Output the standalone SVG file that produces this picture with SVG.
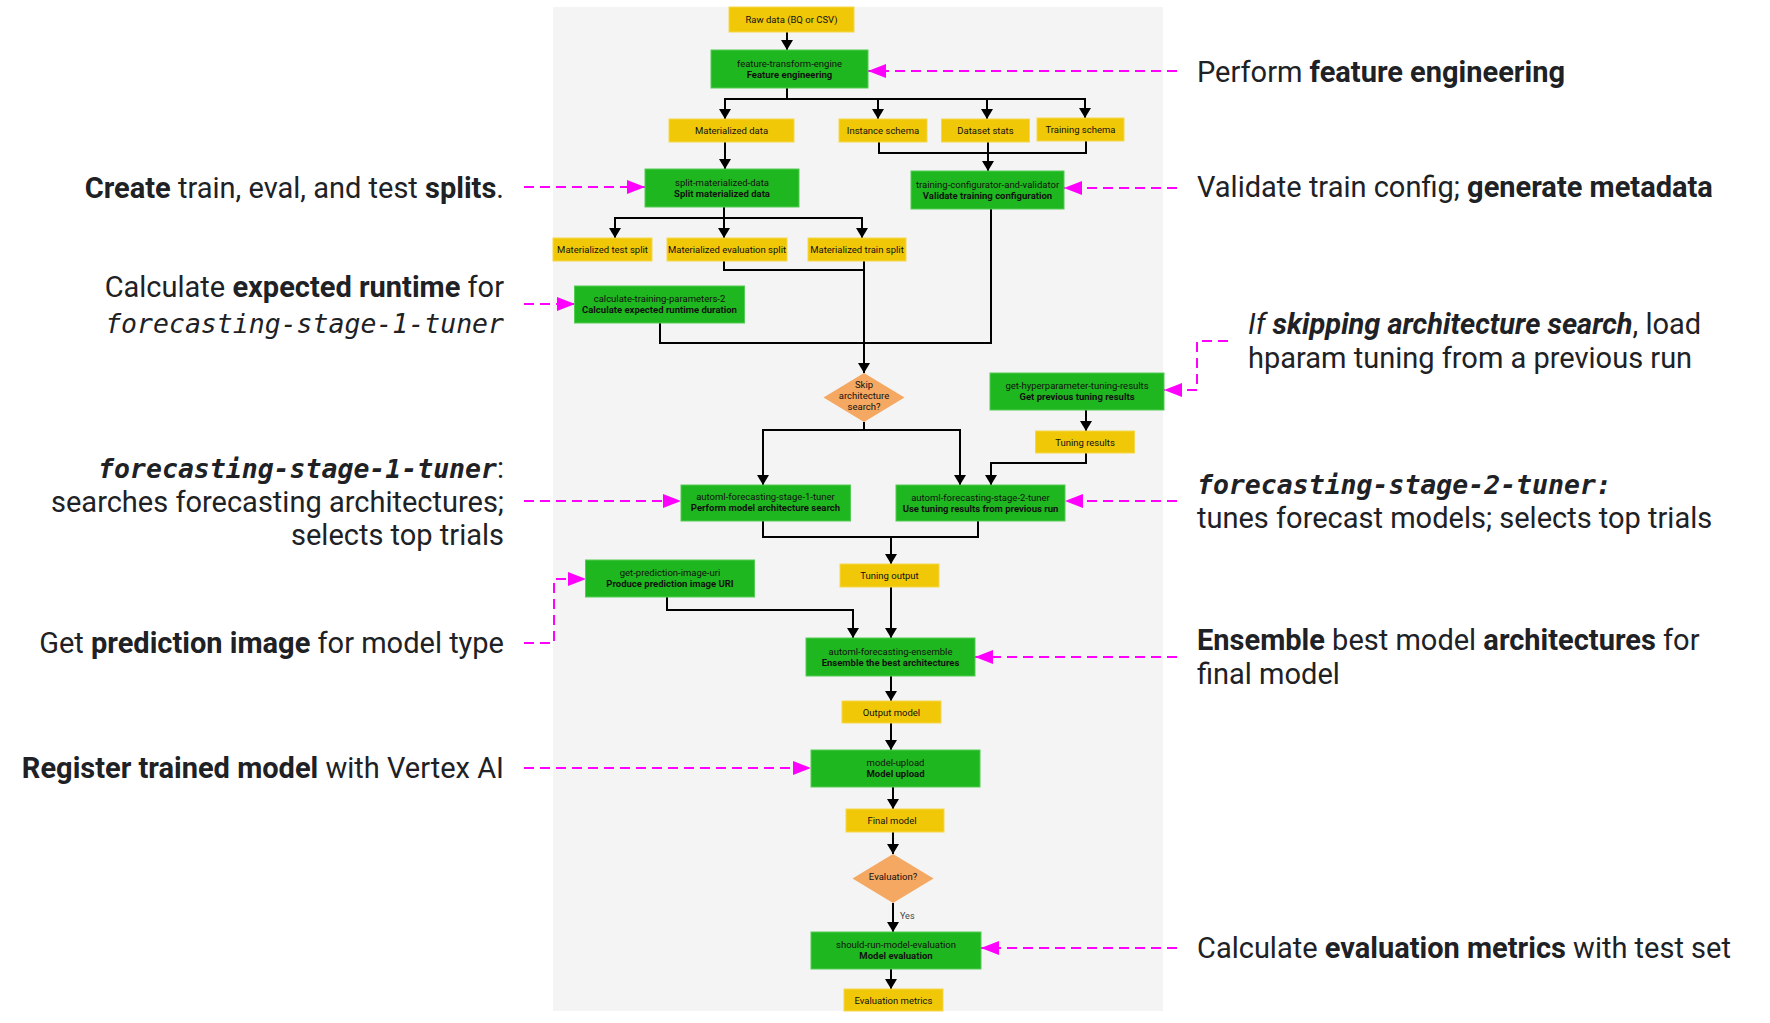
<svg xmlns="http://www.w3.org/2000/svg" width="1770" height="1023" viewBox="0 0 1770 1023">
<style>
.g{fill:#1fb71f;stroke:#55cc55;stroke-width:1}
.y{fill:#f0c808;stroke:#f5d84a;stroke-width:1}
.d{fill:#f5a862}
.t{font-family:Roboto,"Liberation Sans",sans-serif;font-size:9.5px;fill:#111;text-anchor:middle}
.b{font-weight:bold}
.c{fill:none;stroke:#000;stroke-width:2;marker-end:url(#ah)}
.cn{fill:none;stroke:#000;stroke-width:2}
.m{fill:none;stroke:#ff00ff;stroke-width:2;stroke-dasharray:10 6;marker-end:url(#mh)}
.a{font-family:Roboto,"Liberation Sans",sans-serif;font-size:29px;fill:#202124}
.mono{font-family:"DejaVu Sans Mono","Liberation Mono",monospace;font-size:26.5px;font-style:italic}
</style>
<defs>
<marker id="ah" markerUnits="userSpaceOnUse" markerWidth="10" markerHeight="12" viewBox="0 0 10 12" refX="10" refY="6" orient="auto"><path d="M0,0 L10,6 L0,12 z" fill="#000"/></marker>
<marker id="mh" markerUnits="userSpaceOnUse" markerWidth="18" markerHeight="14" viewBox="0 0 18 14" refX="18" refY="7" orient="auto"><path d="M0,0 L18,7 L0,14 z" fill="#ff00ff"/></marker>
</defs>
<rect x="553" y="7" width="610" height="1004" fill="#f4f4f4"/>

<g id="connectors">
<path class="c" d="M787,32 V50"/>
<path class="c" d="M787,88 V99 H725 V119"/>
<path class="c" d="M787,99 H878 V119"/>
<path class="c" d="M787,99 H987 V119"/>
<path class="c" d="M787,99 H1085 V118"/>
<path class="cn" d="M879,142 V153 H1086 V141"/>
<path class="c" d="M988,142 V171"/>
<path class="c" d="M725,142 V169"/>
<path class="c" d="M724,207 V218 H615 V238"/>
<path class="c" d="M724,218 V238"/>
<path class="c" d="M724,218 H862 V238"/>
<path class="cn" d="M724,261 V270 H864"/>
<path class="c" d="M864,261 V373"/>
<path class="cn" d="M660,323 V343 H991 V209"/>
<path class="c" d="M864,422 V430 H763 V485"/>
<path class="c" d="M864,430 H960 V485"/>
<path class="c" d="M1086,410 V431"/>
<path class="c" d="M1086,453 V463 H991 V485"/>
<path class="cn" d="M763,521 V537 H978 V521"/>
<path class="c" d="M891,537 V564"/>
<path class="c" d="M891,587 V638"/>
<path class="c" d="M667,597 V610 H853 V638"/>
<path class="c" d="M891,676 V701"/>
<path class="c" d="M891,723 V750"/>
<path class="c" d="M893,787 V809"/>
<path class="c" d="M893,832 V854"/>
<path class="c" d="M893,903 V932"/>
<text x="900" y="919" font-family="Roboto,'Liberation Sans',sans-serif" font-size="9px" fill="#444">Yes</text>
<path class="c" d="M891,969 V989"/>
<path class="m" d="M1177,71 H868"/>
<path class="m" d="M524,187 H645"/>
<path class="m" d="M1177,188 H1064"/>
<path class="m" d="M524,304 H575"/>
<path class="m" d="M1228,341 H1197 V390 H1164"/>
<path class="m" d="M524,501 H681"/>
<path class="m" d="M1177,501 H1065"/>
<path class="m" d="M524,643 H554 V579 H586"/>
<path class="m" d="M1177,657 H975"/>
<path class="m" d="M524,768 H811"/>
<path class="m" d="M1177,948 H981"/>
</g>

<g id="raw"><rect class="y" x="729" y="7" width="125" height="25"/><text class="t" x="791.5" y="23">Raw data (BQ or CSV)</text></g>
<g id="fte"><rect class="g" x="711" y="50" width="157" height="38"/><text class="t" x="789.5" y="67">feature-transform-engine</text><text class="t b" x="789.5" y="78">Feature engineering</text></g>
<g id="matdata"><rect class="y" x="669" y="119" width="125" height="23"/><text class="t" x="731.5" y="134">Materialized data</text></g>
<g id="instance"><rect class="y" x="839" y="119" width="88" height="23"/><text class="t" x="883" y="134">Instance schema</text></g>
<g id="datasetstats"><rect class="y" x="941.5" y="119" width="88" height="23"/><text class="t" x="985.5" y="134">Dataset stats</text></g>
<g id="trainschema"><rect class="y" x="1037" y="118" width="87" height="23"/><text class="t" x="1080.5" y="133">Training schema</text></g>
<g id="split"><rect class="g" x="645" y="169" width="154" height="38"/><text class="t" x="722" y="186">split-materialized-data</text><text class="t b" x="722" y="197">Split materialized data</text></g>
<g id="config"><rect class="g" x="911" y="171" width="153" height="38"/><text class="t" x="987.5" y="188">training-configurator-and-validator</text><text class="t b" x="987.5" y="199">Validate training configuration</text></g>
<g id="testsplit"><rect class="y" x="553" y="238" width="99" height="23"/><text class="t" x="602.5" y="253">Materialized test split</text></g>
<g id="evalsplit"><rect class="y" x="667" y="238" width="120" height="23"/><text class="t" x="727" y="253">Materialized evaluation split</text></g>
<g id="trainsplit"><rect class="y" x="808" y="238" width="98" height="23"/><text class="t" x="857" y="253">Materialized train split</text></g>
<g id="calc"><rect class="g" x="574.5" y="286" width="170" height="37"/><text class="t" x="659.5" y="302">calculate-training-parameters-2</text><text class="t b" x="659.5" y="313">Calculate expected runtime duration</text></g>
<g id="skip"><polygon class="d" points="864,373 904.5,397.5 864,422 823.5,397.5"/><text class="t" x="864" y="388">Skip</text><text class="t" x="864" y="399">architecture</text><text class="t" x="864" y="410">search?</text></g>
<g id="hyper"><rect class="g" x="990" y="373" width="174" height="37"/><text class="t" x="1077" y="389">get-hyperparameter-tuning-results</text><text class="t b" x="1077" y="400">Get previous tuning results</text></g>
<g id="tuningresults"><rect class="y" x="1035.5" y="431" width="99" height="22"/><text class="t" x="1085" y="445.5">Tuning results</text></g>
<g id="stage1"><rect class="g" x="681" y="485" width="169.5" height="36"/><text class="t" x="765.5" y="500">automl-forecasting-stage-1-tuner</text><text class="t b" x="765.5" y="511">Perform model architecture search</text></g>
<g id="stage2"><rect class="g" x="896" y="485" width="169" height="36"/><text class="t" x="980.5" y="501">automl-forecasting-stage-2-tuner</text><text class="t b" x="980.5" y="512">Use tuning results from previous run</text></g>
<g id="tuningoutput"><rect class="y" x="840" y="564" width="99" height="23"/><text class="t" x="889.5" y="579">Tuning output</text></g>
<g id="pred"><rect class="g" x="585.5" y="560" width="169" height="37"/><text class="t" x="670" y="576">get-prediction-image-uri</text><text class="t b" x="670" y="587">Produce prediction image URI</text></g>
<g id="ensemble"><rect class="g" x="806" y="638" width="169" height="38"/><text class="t" x="890.5" y="655">automl-forecasting-ensemble</text><text class="t b" x="890.5" y="666">Ensemble the best architectures</text></g>
<g id="outputmodel"><rect class="y" x="842" y="701" width="99" height="22"/><text class="t" x="891.5" y="715.5">Output model</text></g>
<g id="modelupload"><rect class="g" x="811" y="750" width="169" height="37"/><text class="t" x="895.5" y="766">model-upload</text><text class="t b" x="895.5" y="777">Model upload</text></g>
<g id="finalmodel"><rect class="y" x="846" y="809" width="98" height="23"/><text class="t" x="892" y="824">Final model</text></g>
<g id="evaldiamond"><polygon class="d" points="893,854 933.5,878.5 893,903 852.5,878.5"/><text class="t" x="893" y="880">Evaluation?</text></g>
<g id="shouldrun"><rect class="g" x="811" y="932" width="170" height="37"/><text class="t" x="896" y="948">should-run-model-evaluation</text><text class="t b" x="896" y="959">Model evaluation</text></g>
<g id="evalmetrics"><rect class="y" x="844" y="989" width="99" height="22"/><text class="t" x="893.5" y="1003.5">Evaluation metrics</text></g>

<g id="notes-left" class="a" text-anchor="end">
<text x="504" y="198"><tspan class="b">Create</tspan> train, eval, and test <tspan class="b">splits</tspan>.</text>
<text x="504" y="297">Calculate <tspan class="b">expected runtime</tspan> for</text>
<text x="504" y="333" class="mono">forecasting-stage-1-tuner</text>
<text x="504" y="478"><tspan class="mono b">forecasting-stage-1-tuner</tspan>:</text>
<text x="504" y="512">searches forecasting architectures;</text>
<text x="504" y="545">selects top trials</text>
<text x="504" y="653">Get <tspan class="b">prediction image</tspan> for model type</text>
<text x="504" y="778"><tspan class="b">Register trained model</tspan> with Vertex AI</text>
</g>
<g id="notes-right" class="a">
<text x="1197" y="82">Perform <tspan class="b">feature engineering</tspan></text>
<text x="1197" y="197">Validate train config; <tspan class="b">generate metadata</tspan></text>
<text x="1248" y="334"><tspan font-style="italic">If </tspan><tspan class="b" font-style="italic">skipping architecture search</tspan>, load</text>
<text x="1248" y="368">hparam tuning from a previous run</text>
<text x="1197" y="494" class="mono b">forecasting-stage-2-tuner:</text>
<text x="1197" y="528">tunes forecast models; selects top trials</text>
<text x="1197" y="650"><tspan class="b">Ensemble</tspan> best model <tspan class="b">architectures</tspan> for</text>
<text x="1197" y="684">final model</text>
<text x="1197" y="958">Calculate <tspan class="b">evaluation metrics</tspan> with test set</text>
</g>
</svg>
